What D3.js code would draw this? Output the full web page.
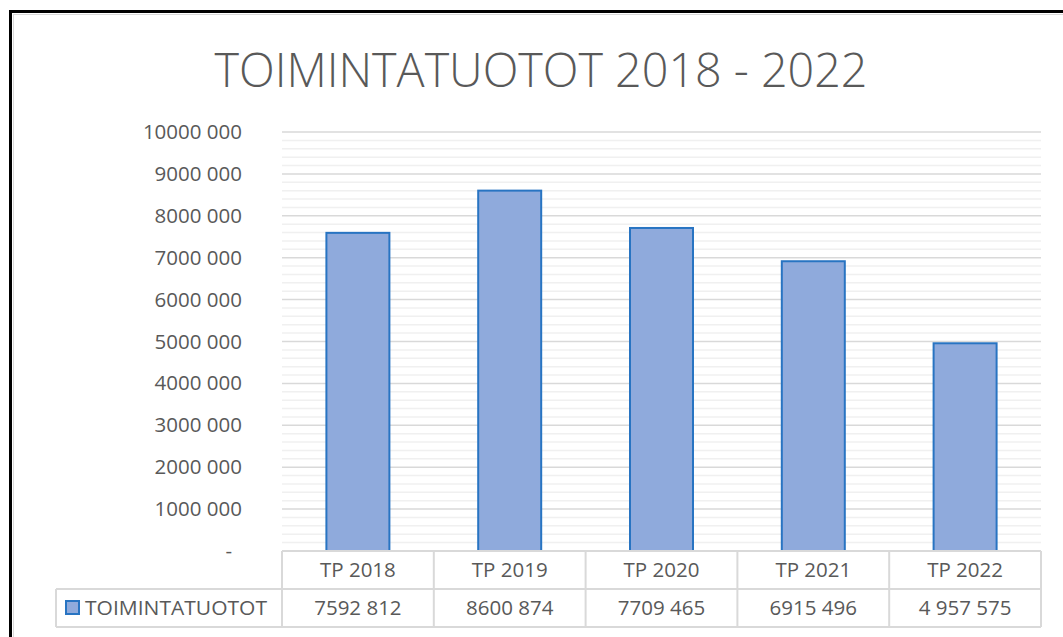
<!DOCTYPE html>
<html>
<head>
<meta charset="utf-8">
<script src="https://cdn.jsdelivr.net/npm/d3@7"></script>
<style>
  html, body { margin: 0; padding: 0; background: #fff; }
  svg { display: block; }
  text { font-family: "Open Sans", "DejaVu Sans", sans-serif; fill: #595959; }
</style>
</head>
<body>
<svg id="chart" width="1063" height="637"></svg>
<script>
const title = "TOIMINTATUOTOT 2018 - 2022";
const seriesName = "TOIMINTATUOTOT";
const categories = ["TP 2018", "TP 2019", "TP 2020", "TP 2021", "TP 2022"];
const values = [7592812, 8600874, 7709465, 6915496, 4957575];
const valueLabels = ["7592 812", "8600 874", "7709 465", "6915 496", "4 957 575"];
const yTickValues = [0, 1000000, 2000000, 3000000, 4000000, 5000000, 6000000, 7000000, 8000000, 9000000, 10000000];
const yTickLabels = ["-", "1000 000", "2000 000", "3000 000", "4000 000", "5000 000", "6000 000", "7000 000", "8000 000", "9000 000", "10000 000"];
const minorStep = 200000;

const svg = d3.select("#chart");
const W = 1063, H = 637;

const plotLeft = 282, plotRight = 1041, plotTop = 132, plotBottom = 551;
const rowH = 38;
const tableLeft = 56;

// frame
svg.append("rect").attr("x", 0).attr("y", 0).attr("width", W).attr("height", H).attr("fill", "#fff");
svg.append("rect").attr("x", 13.5).attr("y", 14.5).attr("width", W).attr("height", H).attr("fill", "none").attr("stroke", "#D9D9D9").attr("stroke-width", 1);
svg.append("path").attr("d", `M10.5,${H + 5} V11.5 H${W + 5}`).attr("fill", "none").attr("stroke", "#000").attr("stroke-width", 3);

// title
svg.append("text")
  .attr("x", 541).attr("y", 87)
  .attr("text-anchor", "middle")
  .attr("font-size", 48)
  .attr("font-weight", 300)
  .attr("textLength", 653).attr("lengthAdjust", "spacingAndGlyphs")
  .text(title);

const y = d3.scaleLinear().domain([0, 10000000]).range([plotBottom, plotTop]);
const xCell = d3.scaleBand().domain(categories).range([plotLeft, plotRight]).padding(0);
const xBar = d3.scaleBand().domain(categories).range([plotLeft, plotRight]).paddingInner(0.585).paddingOuter(0.2925);

// minor gridlines
const minorVals = d3.range(minorStep, 10000000 + 1, minorStep).filter(v => v % 1000000 !== 0);
svg.append("g").selectAll("line").data(minorVals).join("line")
  .attr("x1", plotLeft).attr("x2", plotRight)
  .attr("y1", d => y(d)).attr("y2", d => y(d))
  .attr("stroke", "#F0F0F0").attr("stroke-width", 1.5);

// major gridlines
svg.append("g").selectAll("line").data(yTickValues.filter(v => v > 0)).join("line")
  .attr("x1", plotLeft).attr("x2", plotRight)
  .attr("y1", d => y(d)).attr("y2", d => y(d))
  .attr("stroke", "#D9D9D9").attr("stroke-width", 1.5);

// y axis labels
const yAxis = d3.axisLeft(y).tickValues(yTickValues).tickSize(0).tickPadding(0)
  .tickFormat((d, i) => yTickLabels[i]);
const gy = svg.append("g").attr("transform", `translate(242,0)`).call(yAxis);
gy.select(".domain").remove();
gy.selectAll("text")
  .attr("font-size", 20.5)
  .attr("fill", "#595959")
  .style("font-family", '"Open Sans", sans-serif')
  .attr("dx", (d) => d === 0 ? -10 : 0);

// bars
svg.append("g").selectAll("rect").data(values).join("rect")
  .attr("x", (d, i) => xBar(categories[i]))
  .attr("width", xBar.bandwidth())
  .attr("y", d => y(d))
  .attr("height", d => plotBottom - y(d))
  .attr("fill", "#8FAADC")
  .attr("stroke", "#2874C2")
  .attr("stroke-width", 2);

// data table
const tbl = svg.append("g").attr("stroke", "#D9D9D9").attr("stroke-width", 2).attr("fill", "none");
tbl.append("line").attr("x1", plotLeft).attr("x2", plotRight).attr("y1", plotBottom).attr("y2", plotBottom);
tbl.append("line").attr("x1", tableLeft).attr("x2", plotRight).attr("y1", plotBottom + rowH).attr("y2", plotBottom + rowH);
tbl.append("line").attr("x1", tableLeft).attr("x2", plotRight).attr("y1", plotBottom + 2 * rowH).attr("y2", plotBottom + 2 * rowH);
tbl.append("line").attr("x1", tableLeft).attr("x2", tableLeft).attr("y1", plotBottom + rowH).attr("y2", plotBottom + 2 * rowH);
tbl.selectAll(".v").data(categories).join("line").attr("class", "v")
  .attr("x1", d => xCell(d)).attr("x2", d => xCell(d))
  .attr("y1", plotBottom).attr("y2", plotBottom + 2 * rowH);
tbl.append("line").attr("x1", plotRight).attr("x2", plotRight).attr("y1", plotBottom).attr("y2", plotBottom + 2 * rowH);

// header labels
svg.append("g").selectAll("text").data(categories).join("text")
  .attr("x", d => xCell(d) + xCell.bandwidth() / 2)
  .attr("y", plotBottom + rowH / 2)
  .attr("dy", "0.36em")
  .attr("text-anchor", "middle")
  .attr("font-size", 20.5)
  .text(d => d);

// value labels
svg.append("g").selectAll("text").data(valueLabels).join("text")
  .attr("x", (d, i) => xCell(categories[i]) + xCell.bandwidth() / 2)
  .attr("y", plotBottom + rowH * 1.5)
  .attr("dy", "0.36em")
  .attr("text-anchor", "middle")
  .attr("font-size", 20.5)
  .text(d => d);

// legend key
const ly = plotBottom + rowH * 1.5;
svg.append("rect").attr("x", 66).attr("y", ly - 7).attr("width", 13).attr("height", 13)
  .attr("fill", "#8FAADC").attr("stroke", "#2874C2").attr("stroke-width", 2);
svg.append("text").attr("x", 85).attr("y", ly).attr("dy", "0.36em")
  .attr("font-size", 20.5)
  .attr("textLength", 182).attr("lengthAdjust", "spacingAndGlyphs")
  .text(seriesName);
</script>
</body>
</html>
